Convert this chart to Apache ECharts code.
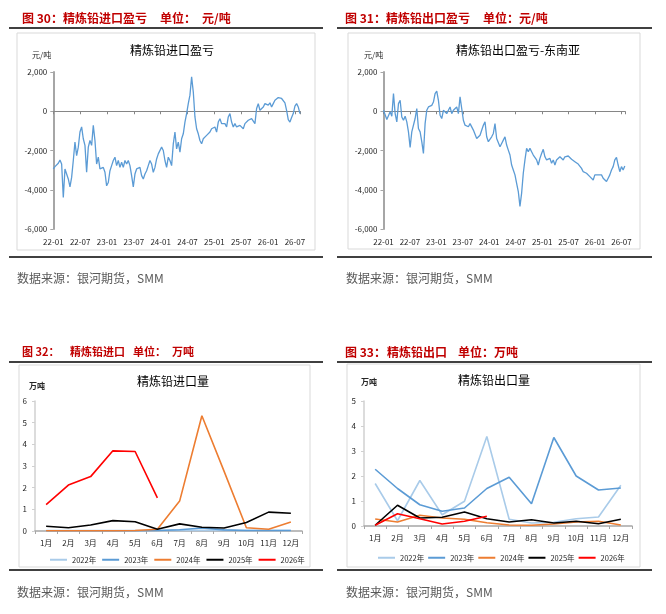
<!DOCTYPE html>
<html>
<head>
<meta charset="utf-8">
<title>精炼铅进出口</title>
<script src="https://cdn.jsdelivr.net/npm/echarts@6/dist/echarts.min.js"></script>
<style>
  body { margin: 0; background: #fff; }
  #main { width: 666px; height: 614px; }
</style>
</head>
<body>
<div id="main"></div>
<script>
// ---- 数据 ----
// 盈亏序列：自 22-01 起等间隔取点（约 11 天一个点），单位 元/吨
var importProfit = [
  -2940,-2820,-2860,-2650,-2480,-2690,-4390,-2940,-3030,-3450,
  -3850,-3370,-2510,-1570,-2260,-1830,-1060,-800,-1400,-1740,
  -3110,-1830,-1490,-1740,-720,-1490,-2690,-2340,-2940,-3030,
  -2860,-3110,-3800,-3630,-3030,-2770,-2510,-2340,-2770,-2510,
  -2860,-2600,-2860,-2510,-2690,-2510,-2770,-3280,-3850,-3200,
  -2940,-3030,-2860,-3280,-3450,-3200,-3030,-2770,-2510,-2690,
  -3110,-2860,-2430,-2170,-2090,-1830,-2000,-2510,-2860,-2340,
  -2510,-2770,-1660,-1060,-1920,-1570,-2090,-1400,-1150,-550,
  -120,390,820,1750,990,-290,-890,-1150,-1490,-1660,
  -1400,-1490,-1230,-1320,-1060,-890,-970,-800,-1060,-550,
  -380,-630,-550,-630,-800,-290,-120,-550,-800,-630,
  -800,-890,-720,-800,-890,-630,-550,-460,-550,-380,
  -460,-630,140,390,50,-30,220,390,480,310,
  430,220,390,560,650,700,740,650,600,430,
  50,-430,-550,-320,-120,260,390,220,-120
];
var exportProfitSEA = [
  50,140,-420,-460,-30,-250,900,-120,-540,390,
  560,-290,-460,-250,-540,-1050,-1840,-1050,-960,-370,
  140,-880,-1050,-1550,-2150,-630,50,220,220,300,
  470,900,1030,560,-200,-370,50,140,-120,50,
  220,-120,50,-30,220,-120,730,810,-460,-710,
  -660,-790,-630,-540,-960,-1050,-1390,-1300,-1220,-1220,
  -710,-540,-1300,-1550,-1550,-1300,-1130,-630,-1390,-1470,
  -1810,-1640,-1470,-1300,-1720,-1980,-2230,-2740,-2990,-3240,
  -3670,-4090,-4850,-4170,-3160,-2480,-1890,-2060,-1890,-2060,
  -2230,-2320,-2480,-2740,-2400,-2150,-1940,-2320,-2480,-2570,
  -2400,-2650,-2480,-2740,-2480,-2400,-2320,-2400,-2480,-2320,
  -2400,-2280,-2350,-2450,-2480,-2570,-2480,-2690,-2790,-2910,
  -3080,-2990,-3160,-3240,-3330,-3240,-3500,-3240,-3160,-3240,
  -3330,-3240,-3410,-3500,-3580,-3410,-3240,-2990,-2820,-2480,
  -2350,-2740,-3080,-2820,-2990,-2790
];
// 取样间隔（月）
var importStep = 54 / 145;
var exportStep = 54 / 143;
var profitTickLabels = ['22-01','22-07','23-01','23-07','24-01','24-07','25-01','25-07','26-01','26-07'];

var months = ['1月','2月','3月','4月','5月','6月','7月','8月','9月','10月','11月','12月'];
var years = ['2022年','2023年','2024年','2025年','2026年'];

// 精炼铅进口量 万吨
var imp2022 = [0.02,0.02,0.02,0.02,0.02,0.02,0.03,0.03,0.02,0.02,0.02,0.02];
var imp2023 = [0.01,0.01,0.01,0.01,0.01,0.02,0.06,0.14,0.05,0.02,0.02,0.02];
var imp2024 = [0.01,0.01,0.01,0.01,0.02,0.08,1.38,5.32,2.75,0.15,0.08,0.42];
var imp2025 = [0.22,0.15,0.28,0.48,0.43,0.08,0.33,0.17,0.14,0.39,0.87,0.82];
var imp2026 = [1.22,2.12,2.51,3.70,3.67,1.53];

// 精炼铅出口量 万吨
var exp2022 = [1.70,0.21,1.82,0.45,0.99,3.58,0.27,0.12,0.15,0.29,0.36,1.63];
var exp2023 = [2.27,1.50,0.85,0.59,0.72,1.50,1.95,0.89,3.54,2.00,1.44,1.52];
var exp2024 = [0.28,0.16,0.43,0.32,0.27,0.13,0.04,0.03,0.08,0.16,0.19,0.04];
var exp2025 = [0.03,0.83,0.32,0.35,0.56,0.29,0.16,0.25,0.12,0.19,0.09,0.27];
var exp2026 = [0.03,0.49,0.29,0.08,0.19,0.39];

// ---- 样式 ----
var yearColors = ['#a9cbe9', '#5b9bd5', '#ed7d31', '#000000', '#ff0000'];
var CJK = 'Noto Sans CJK SC';
var NARROW = "'Liberation Sans Narrow', 'Noto Sans CJK SC'";
var RED = '#c00000';

var myChart = echarts.init(document.getElementById('main'));

function profitLabel(v) {
  var k = Math.round(v / 6);
  if (Math.abs(v - k * 6) > 1e-6) return '';
  return profitTickLabels[k] || '';
}
function commaLabel(v) {
  return v.toLocaleString('en-US');
}

function profitXAxes(gridIndex, max) {
  return [{
    gridIndex: gridIndex, type: 'value', min: 0, max: max, interval: 6,
    position: 'bottom',
    axisLine: { show: false, onZero: false },
    axisTick: { show: false },
    splitLine: { show: false },
    axisLabel: { formatter: profitLabel, fontSize: 8, color: '#262626', fontFamily: NARROW, margin: 9, showMaxLabel: false }
  }, {
    gridIndex: gridIndex, type: 'value', min: 0, max: max, interval: 6,
    position: 'top',
    axisLine: { show: true, onZero: true, lineStyle: { color: '#868686', width: 1 } },
    axisTick: { show: true, inside: true, length: 3, lineStyle: { color: '#868686' } },
    splitLine: { show: false },
    axisLabel: { show: false }
  }];
}
function profitYAxis(gridIndex) {
  return {
    gridIndex: gridIndex, type: 'value', min: -6000, max: 2000, interval: 2000,
    axisLine: { show: true, lineStyle: { color: '#a6a6a6', width: 2 } },
    axisTick: { show: true, length: 3, lineStyle: { color: '#a6a6a6' } },
    splitLine: { show: false },
    axisLabel: { formatter: commaLabel, fontSize: 8, color: '#262626', fontFamily: NARROW, margin: 6 }
  };
}
function monthXAxis(gridIndex) {
  return {
    gridIndex: gridIndex, type: 'category', data: months, boundaryGap: true,
    axisLine: { show: true, lineStyle: { color: '#a6a6a6', width: 1.5 } },
    axisTick: { show: true, length: 3, lineStyle: { color: '#a6a6a6' } },
    axisLabel: { fontSize: 8, color: '#262626', fontFamily: NARROW, margin: 8, interval: 0 }
  };
}
function volumeYAxis(gridIndex, max) {
  return {
    gridIndex: gridIndex, type: 'value', min: 0, max: max, interval: 1,
    axisLine: { show: true, lineStyle: { color: '#d0d0d0', width: 1.5 } },
    axisTick: { show: true, length: 3, lineStyle: { color: '#d0d0d0' } },
    splitLine: { show: false },
    axisLabel: { fontSize: 8, color: '#262626', fontFamily: NARROW, margin: 8 }
  };
}

var series = [{
  name: '精炼铅进口盈亏', type: 'line', xAxisIndex: 0, yAxisIndex: 0,
  data: importProfit.map(function (v, i) { return [i * importStep, v]; }),
  showSymbol: false, lineStyle: { color: '#5b9bd5', width: 1.3 }, itemStyle: { color: '#5b9bd5' }
}, {
  name: '精炼铅出口盈亏-东南亚', type: 'line', xAxisIndex: 2, yAxisIndex: 1,
  data: exportProfitSEA.map(function (v, i) { return [i * exportStep, v]; }),
  showSymbol: false, lineStyle: { color: '#5b9bd5', width: 1.3 }, itemStyle: { color: '#5b9bd5' }
}];

var importByYear = [imp2022, imp2023, imp2024, imp2025, imp2026];
var exportByYear = [exp2022, exp2023, exp2024, exp2025, exp2026];
years.forEach(function (y, k) {
  series.push({
    name: y, type: 'line', xAxisIndex: 4, yAxisIndex: 2, data: importByYear[k],
    showSymbol: false, lineStyle: { color: yearColors[k], width: 1.6 }, itemStyle: { color: yearColors[k] }
  });
});
years.forEach(function (y, k) {
  series.push({
    name: y, type: 'line', xAxisIndex: 5, yAxisIndex: 3, data: exportByYear[k],
    showSymbol: false, lineStyle: { color: yearColors[k], width: 1.6 }, itemStyle: { color: yearColors[k] }
  });
});

function txt(t, x, y, size, color, weight, align) {
  return {
    type: 'text', x: x, y: y, silent: true,
    style: {
      text: t, fill: color, font: (weight || 'normal') + ' ' + size + 'px ' + CJK,
      textAlign: align || 'left', textVerticalAlign: 'middle'
    }
  };
}
function rule(x1, x2, y) {
  return { type: 'line', silent: true, shape: { x1: x1, y1: y, x2: x2, y2: y }, style: { stroke: '#000', lineWidth: 1.5 } };
}
function box(x, y, w, h) {
  return { type: 'rect', silent: true, shape: { x: x, y: y, width: w, height: h }, style: { fill: 'none', stroke: '#d9d9d9', lineWidth: 1 } };
}

var graphics = [
  // 图 30
  txt('图 30：', 22, 18, 12, RED, 'bold'),
  txt('精炼铅进口盈亏', 63, 18, 12, RED, 'bold'),
  txt('单位：', 160, 18, 12, RED, 'bold'),
  txt('元/吨', 202, 18, 12, RED, 'bold'),
  rule(9, 323, 28), box(17, 33, 298, 217), rule(9, 323, 257),
  txt('元/吨', 32, 55, 8, '#262626'),
  txt('数据来源：银河期货，SMM', 17, 278, 12, '#595959'),
  // 图 31
  txt('图 31：', 345, 18, 12, RED, 'bold'),
  txt('精炼铅出口盈亏', 386, 18, 12, RED, 'bold'),
  txt('单位：元/吨', 483, 18, 12, RED, 'bold'),
  rule(337, 652, 28), box(348, 33, 292, 216), rule(337, 652, 257),
  txt('元/吨', 364, 55, 8, '#262626'),
  txt('数据来源：银河期货，SMM', 346, 278, 12, '#595959'),
  // 图 32
  txt('图 32：', 22, 352, 11, RED, 'bold'),
  txt('精炼铅进口', 70, 352, 11, RED, 'bold'),
  txt('单位：', 133, 352, 11, RED, 'bold'),
  txt('万吨', 172, 352, 11, RED, 'bold'),
  rule(9, 323, 362), box(19, 365, 291, 202), rule(9, 323, 570),
  txt('万吨', 29, 386, 8, '#262626', 'bold'),
  txt('数据来源：银河期货，SMM', 17, 592, 12, '#595959'),
  // 图 33
  txt('图 33：', 345, 352, 12, RED, 'bold'),
  txt('精炼铅出口', 387, 352, 12, RED, 'bold'),
  txt('单位：万吨', 458, 352, 12, RED, 'bold'),
  rule(337, 652, 362), box(347, 364, 293, 203), rule(337, 652, 570),
  txt('万吨', 361, 382, 8, '#262626', 'bold'),
  txt('数据来源：银河期货，SMM', 346, 592, 12, '#595959')
];

function chartTitle(t, cx, cy) {
  return {
    text: t, left: cx, top: cy - 8, textAlign: 'center',
    textStyle: { fontSize: 12, fontWeight: 'normal', color: '#000', fontFamily: CJK }
  };
}

var option = {
  backgroundColor: '#fff',
  animation: false,
  title: [
    chartTitle('精炼铅进口盈亏', 167, 47),
    chartTitle('精炼铅出口盈亏-东南亚', 513, 47),
    chartTitle('精炼铅进口量', 168, 378),
    chartTitle('精炼铅出口量', 489, 377)
  ],
  legend: [{
    data: years, left: 45, top: 551, icon: 'rect', itemWidth: 17, itemHeight: 2, itemGap: 6,
    textStyle: { fontSize: 7.5, color: '#262626', fontFamily: NARROW }
  }, {
    data: years, left: 373, top: 549, icon: 'rect', itemWidth: 17, itemHeight: 2, itemGap: 4,
    textStyle: { fontSize: 7.5, color: '#262626', fontFamily: NARROW }
  }],
  grid: [
    { left: 53.3, top: 72, width: 247, height: 157 },
    { left: 383.5, top: 72, width: 241.5, height: 157 },
    { left: 35, top: 401, width: 267, height: 130 },
    { left: 364, top: 401, width: 268, height: 125 }
  ],
  xAxis: [].concat(profitXAxes(0, 55.2), profitXAxes(1, 54.8), [monthXAxis(2), monthXAxis(3)]),
  yAxis: [profitYAxis(0), profitYAxis(1), volumeYAxis(2, 6), volumeYAxis(3, 5)],
  graphic: graphics,
  series: series
};

myChart.setOption(option);
</script>
</body>
</html>
